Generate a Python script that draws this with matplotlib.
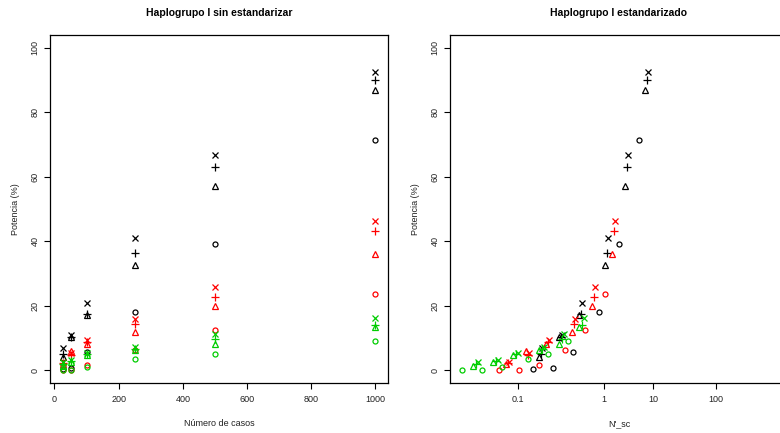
import numpy as np
import matplotlib
matplotlib.use('Agg')
import matplotlib.pyplot as plt

plt.rcParams['font.family'] = ['Liberation Sans', 'DejaVu Sans']

n_casos = [25, 50, 100, 250, 500, 1000]

# potencia (%): o circulo, t triangulo, m mas, x cruz
pot_negro_o = [0.5, 0.7, 5.5, 18.0, 39.2, 71.5]
pot_negro_t = [4.0, 10.2, 17.0, 32.5, 57.0, 87.0]
pot_negro_m = [5.0, 10.4, 17.5, 36.5, 62.9, 90.0]
pot_negro_x = [7.0, 10.8, 20.8, 41.0, 66.9, 92.5]
pot_rojo_o = [0.1, 0.1, 1.6, 6.3, 12.4, 23.6]
pot_rojo_t = [1.9, 5.9, 8.0, 11.8, 19.8, 35.9]
pot_rojo_m = [2.2, 4.8, 8.7, 14.4, 22.7, 43.3]
pot_rojo_x = [2.5, 5.3, 9.2, 15.8, 25.8, 46.3]
pot_verde_o = [0.0, 0.0, 1.0, 3.3, 5.0, 9.0]
pot_verde_t = [1.3, 2.6, 4.6, 6.2, 8.0, 13.5]
pot_verde_m = [1.8, 2.8, 5.0, 6.6, 9.7, 13.9]
pot_verde_x = [2.5, 3.2, 5.4, 7.3, 11.2, 16.3]

# N_sc (estandarizado) de cada punto
nsc_negro_o = [0.166, 0.332, 0.664, 1.66, 3.32, 6.64]
nsc_negro_t = [0.205, 0.409, 0.818, 2.05, 4.09, 8.18]
nsc_negro_m = [0.219, 0.439, 0.877, 2.19, 4.39, 8.77]
nsc_negro_x = [0.227, 0.454, 0.908, 2.27, 4.54, 9.08]
nsc_rojo_o = [0.0510, 0.102, 0.204, 0.510, 1.02, 2.04]
nsc_rojo_t = [0.0653, 0.131, 0.261, 0.653, 1.31, 2.61]
nsc_rojo_m = [0.0698, 0.140, 0.279, 0.698, 1.40, 2.79]
nsc_rojo_x = [0.0723, 0.145, 0.289, 0.723, 1.45, 2.89]
nsc_verde_o = [0.0142, 0.0283, 0.0566, 0.142, 0.283, 0.566]
nsc_verde_t = [0.0207, 0.0415, 0.0829, 0.207, 0.415, 0.829]
nsc_verde_m = [0.0230, 0.0460, 0.0920, 0.230, 0.460, 0.920]
nsc_verde_x = [0.0247, 0.0493, 0.0986, 0.247, 0.493, 0.986]

sc_tick_labels = ['0.1', '1', '10', '100']
sc_tick_pos = [0.1, 1.97, 10.8, 96]

negro = 'black'
rojo = '#FF0000'
verde = '#00CD00'

series = [
    (negro, 'o', pot_negro_o, nsc_negro_o), (negro, '^', pot_negro_t, nsc_negro_t),
    (negro, '+', pot_negro_m, nsc_negro_m), (negro, 'x', pot_negro_x, nsc_negro_x),
    (rojo, 'o', pot_rojo_o, nsc_rojo_o), (rojo, '^', pot_rojo_t, nsc_rojo_t),
    (rojo, '+', pot_rojo_m, nsc_rojo_m), (rojo, 'x', pot_rojo_x, nsc_rojo_x),
    (verde, 'o', pot_verde_o, nsc_verde_o), (verde, '^', pot_verde_t, nsc_verde_t),
    (verde, '+', pot_verde_m, nsc_verde_m), (verde, 'x', pot_verde_x, nsc_verde_x),
]
msize = {'o': 3.6, '^': 4.0, '+': 5.8, 'x': 4.0}

fig = plt.figure(figsize=(7.8, 4.33), dpi=100)
W, H = 780.0, 433.0
ax1 = fig.add_axes([50 / W, (H - 383) / H, 338 / W, 348 / H])
ax2 = fig.add_axes([450 / W, (H - 383) / H, 338 / W, 348 / H])

for col, mk, pot, nsc in series:
    ax1.plot(n_casos, pot, ls='none', marker=mk, mfc='none', mec=col,
             ms=msize[mk], mew=0.9)
    ax2.plot(nsc, pot, ls='none', marker=mk, mfc='none', mec=col,
             ms=msize[mk], mew=0.9)

ax1.set_xlim(-14, 1039)
ax1.set_xticks(np.arange(0, 1001, 200))
ax2.set_xscale('log')
ax2.set_xlim(0.00946, 1164)
ax2.set_xticks(sc_tick_pos)
ax2.set_xticklabels(sc_tick_labels)
ax2.minorticks_off()

titles = ['Haplogrupo I sin estandarizar', 'Haplogrupo I estandarizado']
xlabels = ['Número de casos', "N'_sc"]
for ax, t, xl in zip([ax1, ax2], titles, xlabels):
    ax.set_ylim(-4, 104)
    ax.set_yticks(np.arange(0, 101, 20))
    for lab in ax.get_yticklabels():
        lab.set_rotation(90)
        lab.set_va('center')
    for s in ax.spines.values():
        s.set_linewidth(0.9)
    ax.tick_params(direction='out', length=4, width=0.8, labelsize=6.5,
                   pad=5, colors='black', labelcolor='#222222')
    ax.tick_params(axis='y', pad=3.5)
    ax.text(0.5, 1 + 22 / 348, t, transform=ax.transAxes, ha='center',
            va='center', fontsize=7.5, fontweight='bold')
    ax.set_xlabel(xl, fontsize=6.5, color='#222222')
    ax.xaxis.set_label_coords(0.5, -36 / 348)
    ax.set_ylabel('Potencia (%)', fontsize=6.5, color='#222222')
    ax.yaxis.set_label_coords(-30 / 338, 0.5)

fig.savefig('out.png', dpi=100)
